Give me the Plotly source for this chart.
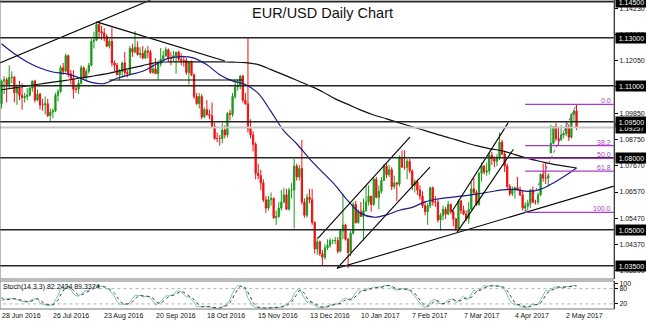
import pandas as pd
import plotly.graph_objects as go

# ---------------- data ----------------
start_date = "2016-06-28"

# warm-up days before the first visible bar (1 Jun - 27 Jun 2016), only used for the Stochastic
warm_open = [1.1130, 1.1185, 1.1150, 1.1365, 1.1355, 1.1357, 1.1395, 1.1315, 1.1255, 1.1290,
             1.1210, 1.1260, 1.1225, 1.1280, 1.1315, 1.1245, 1.1295, 1.1385, 1.1115]
warm_high = [1.1190, 1.1200, 1.1375, 1.1395, 1.1395, 1.1416, 1.1400, 1.1320, 1.1300, 1.1298,
             1.1295, 1.1270, 1.1290, 1.1380, 1.1330, 1.1305, 1.1425, 1.1395, 1.1125]
warm_low = [1.1120, 1.1140, 1.1135, 1.1330, 1.1340, 1.1345, 1.1305, 1.1245, 1.1230, 1.1190,
            1.1200, 1.1130, 1.1205, 1.1280, 1.1240, 1.1235, 1.1290, 1.0912, 1.0990]
warm_close = [1.1185, 1.1150, 1.1365, 1.1355, 1.1357, 1.1395, 1.1315, 1.1255, 1.1290, 1.1210,
              1.1260, 1.1225, 1.1280, 1.1315, 1.1245, 1.1295, 1.1385, 1.1115, 1.1025]

opens = [
    1.1025, 1.1120, 1.1125, 1.1105,
    1.1135, 1.1135, 1.1070, 1.1090, 1.1060, 1.1050, 1.1055, 1.1060, 1.1090, 1.1120,
    1.1040, 1.1065, 1.1020, 1.1020, 1.1025, 1.0975, 1.0990, 1.0995, 1.1060, 1.1075,
    1.1175, 1.1160, 1.1225, 1.1150, 1.1130, 1.1085, 1.1085, 1.1110, 1.1175, 1.1135,
    1.1160, 1.1185, 1.1285, 1.1290, 1.1355, 1.1325, 1.1320, 1.1305, 1.1265, 1.1285,
    1.1195, 1.1185, 1.1145, 1.1160, 1.1195, 1.1155, 1.1150, 1.1255, 1.1240, 1.1260,
    1.1230, 1.1235, 1.1215, 1.1245, 1.1240, 1.1155, 1.1170, 1.1150, 1.1190, 1.1210,
    1.1225, 1.1250, 1.1215, 1.1215, 1.1225, 1.1240, 1.1210, 1.1205, 1.1205, 1.1155,
    1.1200, 1.1145, 1.1055, 1.1025, 1.1055, 1.0970, 1.1000, 1.0980, 1.0975, 1.0930,
    1.0880, 1.0880, 1.0880, 1.0915, 1.0895, 1.0985, 1.0980, 1.1055, 1.1095, 1.1100,
    1.1140, 1.1040, 1.1025, 1.0920, 1.0895, 1.0855, 1.0735, 1.0725, 1.0695, 1.0625,
    1.0590, 1.0625, 1.0630, 1.0550, 1.0555, 1.0590, 1.0615, 1.0645, 1.0585, 1.0665,
    1.0665, 1.0765, 1.0720, 1.0755, 1.0615, 1.0560, 1.0635, 1.0625, 1.0530, 1.0420,
    1.0450, 1.0400, 1.0385, 1.0425, 1.0435, 1.0455, 1.0455, 1.0455, 1.0410, 1.0495,
    1.0520, 1.0460, 1.0405, 1.0485, 1.0605, 1.0530, 1.0575, 1.0555, 1.0580, 1.0615,
    1.0640, 1.0605, 1.0710, 1.0635, 1.0660, 1.0705, 1.0765, 1.0730, 1.0750, 1.0680,
    1.0695, 1.0690, 1.0800, 1.0760, 1.0760, 1.0785, 1.0745, 1.0685, 1.0700, 1.0665,
    1.0640, 1.0600, 1.0575, 1.0600, 1.0675, 1.0615, 1.0615, 1.0540, 1.0560, 1.0585,
    1.0565, 1.0605, 1.0575, 1.0545, 1.0505, 1.0620, 1.0580, 1.0565, 1.0545, 1.0585,
    1.0670, 1.0655, 1.0605, 1.0735, 1.0765, 1.0740, 1.0745, 1.0810, 1.0795, 1.0785,
    1.0800, 1.0865, 1.0815, 1.0765, 1.0680, 1.0650, 1.0665, 1.0675, 1.0665, 1.0645,
    1.0590, 1.0600, 1.0610, 1.0665, 1.0615, 1.0615, 1.0645, 1.0730, 1.0715, 1.0715,
    1.0820, 1.0860, 1.0930, 1.0880, 1.0875, 1.0895, 1.0900, 1.0930, 1.0885, 1.0980,
    1.0995]
highs = [
    1.1125, 1.1140, 1.1135, 1.1185,
    1.1160, 1.1140, 1.1105, 1.1120, 1.1110, 1.1070, 1.1090, 1.1095, 1.1120, 1.1125,
    1.1085, 1.1070, 1.1045, 1.1055, 1.1045, 1.1005, 1.1005, 1.1070, 1.1085, 1.1185,
    1.1195, 1.1234, 1.1230, 1.1165, 1.1165, 1.1100, 1.1125, 1.1185, 1.1180, 1.1170,
    1.1195, 1.1295, 1.1325, 1.1366, 1.1360, 1.1350, 1.1340, 1.1315, 1.1295, 1.1342,
    1.1205, 1.1195, 1.1170, 1.1200, 1.1240, 1.1165, 1.1265, 1.1275, 1.1327, 1.1285,
    1.1260, 1.1265, 1.1255, 1.1265, 1.1250, 1.1190, 1.1215, 1.1205, 1.1257, 1.1245,
    1.1260, 1.1255, 1.1240, 1.1245, 1.1240, 1.1245, 1.1235, 1.1225, 1.1215, 1.1200,
    1.1205, 1.1150, 1.1070, 1.1070, 1.1065, 1.1010, 1.1040, 1.1000, 1.1030, 1.0945,
    1.0905, 1.0895, 1.0945, 1.0935, 1.0990, 1.1000, 1.1070, 1.1125, 1.1125, 1.1145,
    1.1145, 1.1070, 1.1300, 1.0960, 1.0910, 1.0865, 1.0775, 1.0750, 1.0710, 1.0640,
    1.0640, 1.0655, 1.0635, 1.0580, 1.0615, 1.0665, 1.0675, 1.0670, 1.0675, 1.0695,
    1.0795, 1.0775, 1.0770, 1.0874, 1.0630, 1.0650, 1.0670, 1.0670, 1.0535, 1.0470,
    1.0455, 1.0415, 1.0440, 1.0460, 1.0465, 1.0460, 1.0470, 1.0470, 1.0500, 1.0650,
    1.0525, 1.0465, 1.0495, 1.0615, 1.0620, 1.0585, 1.0615, 1.0630, 1.0685, 1.0685,
    1.0640, 1.0720, 1.0720, 1.0685, 1.0720, 1.0775, 1.0775, 1.0770, 1.0760, 1.0725,
    1.0700, 1.0810, 1.0830, 1.0830, 1.0795, 1.0795, 1.0750, 1.0710, 1.0710, 1.0685,
    1.0660, 1.0620, 1.0610, 1.0680, 1.0680, 1.0640, 1.0630, 1.0570, 1.0600, 1.0595,
    1.0620, 1.0610, 1.0580, 1.0550, 1.0625, 1.0625, 1.0600, 1.0580, 1.0615, 1.0700,
    1.0715, 1.0665, 1.0740, 1.0780, 1.0770, 1.0780, 1.0820, 1.0825, 1.0805, 1.0815,
    1.0905, 1.0875, 1.0825, 1.0775, 1.0690, 1.0680, 1.0680, 1.0720, 1.0680, 1.0665,
    1.0615, 1.0625, 1.0670, 1.0680, 1.0625, 1.0655, 1.0735, 1.0775, 1.0780, 1.0735,
    1.0937, 1.0930, 1.0945, 1.0925, 1.0935, 1.0910, 1.0950, 1.0940, 1.0985, 1.1000,
    1.1022]
lows = [
    1.1005, 1.1065, 1.1030, 1.1090,
    1.1110, 1.1030, 1.1020, 1.1040, 1.1000, 1.1030, 1.1040, 1.1055, 1.1075, 1.1030,
    1.1035, 1.1000, 1.0995, 1.0980, 1.0970, 1.0953, 1.0965, 1.0990, 1.1035, 1.1070,
    1.1145, 1.1155, 1.1135, 1.1105, 1.1046, 1.1070, 1.1065, 1.1105, 1.1125, 1.1120,
    1.1150, 1.1180, 1.1255, 1.1285, 1.1295, 1.1290, 1.1285, 1.1260, 1.1255, 1.1180,
    1.1160, 1.1144, 1.1123, 1.1133, 1.1141, 1.1135, 1.1145, 1.1220, 1.1235, 1.1225,
    1.1215, 1.1210, 1.1210, 1.1215, 1.1150, 1.1150, 1.1150, 1.1125, 1.1180, 1.1205,
    1.1220, 1.1200, 1.1185, 1.1200, 1.1150, 1.1200, 1.1185, 1.1180, 1.1145, 1.1105,
    1.1140, 1.1045, 1.1020, 1.1005, 1.0960, 1.0965, 1.0975, 1.0960, 1.0925, 1.0875,
    1.0865, 1.0850, 1.0860, 1.0880, 1.0885, 1.0955, 1.0970, 1.1045, 1.1080, 1.1085,
    1.1030, 1.1020, 1.0905, 1.0880, 1.0825, 1.0710, 1.0710, 1.0665, 1.0615, 1.0570,
    1.0580, 1.0600, 1.0545, 1.0520, 1.0550, 1.0580, 1.0610, 1.0585, 1.0580, 1.0630,
    1.0505, 1.0705, 1.0705, 1.0605, 1.0550, 1.0550, 1.0610, 1.0520, 1.0400, 1.0395,
    1.0390, 1.0352, 1.0375, 1.0415, 1.0425, 1.0440, 1.0440, 1.0400, 1.0405, 1.0460,
    1.0455, 1.0340, 1.0390, 1.0480, 1.0525, 1.0525, 1.0555, 1.0455, 1.0575, 1.0600,
    1.0575, 1.0600, 1.0630, 1.0585, 1.0650, 1.0705, 1.0715, 1.0720, 1.0665, 1.0670,
    1.0620, 1.0680, 1.0760, 1.0750, 1.0710, 1.0735, 1.0665, 1.0655, 1.0645, 1.0625,
    1.0590, 1.0560, 1.0520, 1.0590, 1.0600, 1.0595, 1.0530, 1.0495, 1.0540, 1.0545,
    1.0560, 1.0565, 1.0515, 1.0495, 1.0495, 1.0565, 1.0560, 1.0535, 1.0525, 1.0580,
    1.0650, 1.0600, 1.0600, 1.0700, 1.0730, 1.0725, 1.0730, 1.0770, 1.0760, 1.0765,
    1.0790, 1.0810, 1.0740, 1.0670, 1.0640, 1.0640, 1.0630, 1.0665, 1.0640, 1.0580,
    1.0572, 1.0580, 1.0590, 1.0610, 1.0605, 1.0605, 1.0640, 1.0700, 1.0690, 1.0680,
    1.0820, 1.0855, 1.0870, 1.0850, 1.0870, 1.0880, 1.0890, 1.0870, 1.0880, 1.0950,
    1.0915]
closes = [
    1.1120, 1.1125, 1.1105, 1.1135,
    1.1135, 1.1070, 1.1090, 1.1060, 1.1050, 1.1055, 1.1060, 1.1090, 1.1120, 1.1040,
    1.1065, 1.1020, 1.1020, 1.1025, 1.0975, 1.0990, 1.0995, 1.1060, 1.1075, 1.1175,
    1.1160, 1.1225, 1.1150, 1.1130, 1.1085, 1.1085, 1.1110, 1.1175, 1.1135, 1.1160,
    1.1185, 1.1285, 1.1290, 1.1355, 1.1325, 1.1320, 1.1305, 1.1265, 1.1285, 1.1195,
    1.1185, 1.1145, 1.1160, 1.1195, 1.1155, 1.1150, 1.1255, 1.1240, 1.1260, 1.1230,
    1.1235, 1.1215, 1.1245, 1.1240, 1.1155, 1.1170, 1.1150, 1.1190, 1.1210, 1.1225,
    1.1250, 1.1215, 1.1215, 1.1225, 1.1240, 1.1210, 1.1205, 1.1205, 1.1155, 1.1200,
    1.1145, 1.1055, 1.1025, 1.1055, 1.0970, 1.1000, 1.0980, 1.0975, 1.0930, 1.0880,
    1.0880, 1.0880, 1.0915, 1.0895, 1.0985, 1.0980, 1.1055, 1.1095, 1.1100, 1.1140,
    1.1040, 1.1025, 1.0920, 1.0895, 1.0855, 1.0735, 1.0725, 1.0695, 1.0625, 1.0590,
    1.0625, 1.0630, 1.0550, 1.0555, 1.0590, 1.0615, 1.0645, 1.0585, 1.0665, 1.0665,
    1.0765, 1.0720, 1.0755, 1.0615, 1.0560, 1.0635, 1.0625, 1.0530, 1.0420, 1.0450,
    1.0400, 1.0385, 1.0425, 1.0435, 1.0455, 1.0455, 1.0455, 1.0410, 1.0495, 1.0520,
    1.0460, 1.0405, 1.0485, 1.0605, 1.0530, 1.0575, 1.0555, 1.0580, 1.0615, 1.0640,
    1.0605, 1.0710, 1.0635, 1.0660, 1.0705, 1.0765, 1.0730, 1.0750, 1.0680, 1.0695,
    1.0690, 1.0800, 1.0760, 1.0760, 1.0785, 1.0745, 1.0685, 1.0700, 1.0665, 1.0640,
    1.0600, 1.0575, 1.0600, 1.0675, 1.0615, 1.0615, 1.0540, 1.0560, 1.0585, 1.0565,
    1.0605, 1.0575, 1.0545, 1.0505, 1.0620, 1.0580, 1.0565, 1.0545, 1.0585, 1.0670,
    1.0655, 1.0605, 1.0735, 1.0765, 1.0740, 1.0745, 1.0810, 1.0795, 1.0785, 1.0800,
    1.0865, 1.0815, 1.0765, 1.0680, 1.0650, 1.0665, 1.0675, 1.0665, 1.0645, 1.0590,
    1.0600, 1.0610, 1.0665, 1.0615, 1.0615, 1.0645, 1.0730, 1.0715, 1.0715, 1.0725,
    1.0860, 1.0930, 1.0880, 1.0875, 1.0895, 1.0900, 1.0930, 1.0885, 1.0980, 1.0995,
    1.0926]

# moving averages (bar index -> value)
ma_bars = [0, 5, 10, 15, 20, 25, 30, 35, 40, 45, 50, 55, 60, 65, 70, 75, 80, 85, 90, 95,
           100, 105, 110, 115, 120, 125, 130, 135, 140, 145, 150, 155, 160, 165, 170, 175,
           180, 185, 190, 195, 200, 205, 210, 215, 220, 224]
ma_fast = [1.1275, 1.1233, 1.1199, 1.1174, 1.1157, 1.1150, 1.1134, 1.1114, 1.1109, 1.1131,
           1.1146, 1.1160, 1.1188, 1.1214, 1.1221, 1.1215, 1.1187, 1.1146, 1.1120, 1.1105,
           1.1068, 1.0992, 1.0912, 1.0858, 1.0795, 1.0740, 1.0685, 1.0620, 1.0568, 1.0552,
           1.0562, 1.0581, 1.0593, 1.0616, 1.0628, 1.0635, 1.0641, 1.0648, 1.0657, 1.0666,
           1.0668, 1.0660, 1.0668, 1.0695, 1.0728, 1.0757]
ma_slow = [1.1083, 1.1091, 1.1099, 1.1107, 1.1115, 1.1122, 1.1131, 1.1139, 1.1148, 1.1160,
           1.1172, 1.1184, 1.1196, 1.1199, 1.1199, 1.1199, 1.1199, 1.1199, 1.1198, 1.1196,
           1.1188, 1.1167, 1.1145, 1.1123, 1.1100, 1.1075, 1.1045, 1.1022, 1.0998, 1.0978,
           1.0962, 1.0945, 1.0929, 1.0913, 1.0896, 1.0881, 1.0865, 1.0850, 1.0838, 1.0829,
           1.0813, 1.0797, 1.0784, 1.0772, 1.0764, 1.0757]

# horizontal support / resistance levels and current bid
levels = [1.14500, 1.13000, 1.11000, 1.09500, 1.08000, 1.05000, 1.03500]
bid = 1.09257
axis_ticks = [1.1423, 1.1313, 1.1205, 1.1095, 1.0985, 1.0875, 1.0767, 1.0657, 1.0547, 1.0437, 1.0329]

# hand-drawn trend lines: (bar, price) end points
trendlines = [
    [(-1.0, 1.1193), (58.0, 1.1457)],          # rising line, top-left
    [(37.0, 1.1366), (87.0, 1.1203)],          # falling line from Aug high
    [(42.0, 1.1124), (94.0, 1.1124)],          # horizontal support
    [(123.3, 1.0465), (159.1, 1.0886)],        # channel 1 upper
    [(130.7, 1.0339), (166.9, 1.0761)],        # channel 1 lower
    [(130.7, 1.0339), (240.0, 1.0686)],        # long rising support
    [(175.4, 1.0575), (197.4, 1.0946)],        # channel 2 upper
    [(177.5, 1.0490), (199.4, 1.0835)],        # channel 2 lower
]
fib_ratios = [0.0, 38.2, 50.0, 61.8, 100.0]
fib_low_bar, fib_high_bar = 204, 224

# ---------------- derived ----------------
n = len(closes)
dates = pd.bdate_range(start_date, periods=n)
xs = list(range(n))

full = pd.DataFrame({"h": warm_high + highs, "l": warm_low + lows, "c": warm_close + closes})
ll = full["l"].rolling(14).min()
hh = full["h"].rolling(14).max()
stoch_k = 100 * (full["c"] - ll).rolling(3).sum() / (hh - ll).rolling(3).sum()
stoch_d = stoch_k.rolling(3).mean()
stoch_k = stoch_k.iloc[len(warm_close):].tolist()
stoch_d = stoch_d.iloc[len(warm_close):].tolist()

fib_hi = highs[fib_high_bar]
fib_lo = lows[fib_low_bar]
fib_prices = [fib_hi - r / 100 * (fib_hi - fib_lo) for r in fib_ratios]

# ---------------- layout constants ----------------
W, H = 646, 326
MR, MB = 32, 17
PH = H - MB
X0, X1 = -0.6, 238.6
Y0, Y1 = 1.02946, 1.14571
dom_main = [1 - 279 / PH, 1]
dom_st = [0, 1 - 281 / PH]

GREEN = "#1c9a1c"
RED = "#ee1111"
FIB = "#a83cc8"
FONT = "Liberation Sans"

fig = go.Figure()

fig.add_trace(go.Candlestick(
    x=xs, open=opens, high=highs, low=lows, close=closes,
    increasing=dict(line=dict(color=GREEN, width=1), fillcolor=GREEN),
    decreasing=dict(line=dict(color=RED, width=1), fillcolor=RED),
    whiskerwidth=0, xaxis="x", yaxis="y", showlegend=False, hoverinfo="skip"))

fig.add_trace(go.Scatter(x=ma_bars, y=ma_slow, mode="lines", line=dict(color="#111111", width=1.2, shape="spline"),
                         xaxis="x", yaxis="y", showlegend=False, hoverinfo="skip"))
fig.add_trace(go.Scatter(x=ma_bars, y=ma_fast, mode="lines", line=dict(color="#1a1a8a", width=1.2, shape="spline"),
                         xaxis="x", yaxis="y", showlegend=False, hoverinfo="skip"))

for (a, b) in trendlines:
    fig.add_trace(go.Scatter(x=[a[0], b[0]], y=[a[1], b[1]], mode="lines",
                             line=dict(color="#000000", width=1.1), xaxis="x", yaxis="y",
                             showlegend=False, hoverinfo="skip"))

fig.add_trace(go.Scatter(x=[X0 - 1, X1 + 1], y=[bid, bid], mode="lines",
                         line=dict(color="#c8c8c8", width=2), xaxis="x", yaxis="y",
                         showlegend=False, hoverinfo="skip"))
for lv in levels:
    fig.add_trace(go.Scatter(x=[X0 - 1, X1 + 1], y=[lv, lv], mode="lines",
                             line=dict(color="#262626", width=1.6), xaxis="x", yaxis="y",
                             showlegend=False, hoverinfo="skip"))

# fibonacci
fig.add_trace(go.Scatter(x=[fib_low_bar, fib_high_bar], y=[fib_lo, fib_hi], mode="lines",
                         line=dict(color=FIB, width=1, dash="dot"), xaxis="x", yaxis="y",
                         showlegend=False, hoverinfo="skip"))
for fp in fib_prices:
    fig.add_trace(go.Scatter(x=[fib_low_bar, X1 + 1], y=[fp, fp], mode="lines",
                             line=dict(color=FIB, width=1.2), xaxis="x", yaxis="y",
                             showlegend=False, hoverinfo="skip"))

# stochastic
for lv in [80, 20]:
    fig.add_trace(go.Scatter(x=[X0 - 1, X1 + 1], y=[lv, lv], mode="lines",
                             line=dict(color="#b0b0b0", width=1, dash="dot"), xaxis="x", yaxis="y2",
                             showlegend=False, hoverinfo="skip"))
fig.add_trace(go.Scatter(x=xs, y=stoch_k, mode="lines", line=dict(color="#7cc4b8", width=1),
                         xaxis="x", yaxis="y2", showlegend=False, hoverinfo="skip"))
fig.add_trace(go.Scatter(x=xs, y=stoch_d, mode="lines", line=dict(color="#404040", width=1, dash="dot"),
                         xaxis="x", yaxis="y2", showlegend=False, hoverinfo="skip"))

ann = []
ann.append(dict(text="EUR/USD Daily Chart", xref="paper", yref="paper", x=322.5 / (W - MR), y=1,
                xanchor="center", yanchor="top", yshift=-3, showarrow=False,
                font=dict(family=FONT, size=14.5, color="#111111")))
# bid label first so that the level boxes are drawn over it
for lv in [bid] + levels:
    ann.append(dict(text=f"{lv:.5f}", xref="paper", yref="y", x=1, y=lv, xanchor="left", yanchor="middle",
                    xshift=1, showarrow=False, bgcolor="#000000", borderpad=1, width=29, height=8,
                    font=dict(family=FONT, size=7, color="#ffffff")))
for r, fp in zip(fib_ratios, fib_prices):
    ann.append(dict(text=f"{r:.1f}", xref="paper", yref="y", x=1, y=fp, xanchor="right", yanchor="bottom",
                    xshift=-1, yshift=-2, showarrow=False, font=dict(family=FONT, size=7, color=FIB)))
for i in range(0, n, 20):
    d = dates[i]
    ann.append(dict(text=f"{d.day} {d:%b %Y}", xref="x", yref="paper", x=i, y=0, xanchor="left",
                    yanchor="top", xshift=-2, yshift=-1, showarrow=False,
                    font=dict(family=FONT, size=7, color="#111111")))
ann.append(dict(text="Stoch(14,3,3) 82.2424 89.3374", xref="paper", yref="paper", x=0, y=dom_st[1],
                xanchor="left", yanchor="top", xshift=1, yshift=0, showarrow=False,
                font=dict(family=FONT, size=7, color="#111111")))

shapes = [
    dict(type="rect", xref="paper", yref="paper", x0=0, x1=1, y0=dom_main[0], y1=dom_main[1],
         line=dict(color="#777777", width=1)),
    dict(type="rect", xref="paper", yref="paper", x0=0, x1=1, y0=dom_st[0], y1=dom_st[1],
         line=dict(color="#777777", width=1)),
]

fig.update_layout(
    width=W, height=H, margin=dict(l=0, r=MR, t=0, b=MB),
    paper_bgcolor="white", plot_bgcolor="white", showlegend=False,
    xaxis=dict(domain=[0, 1], range=[X0, X1], anchor="y2", showgrid=False, zeroline=False,
               showticklabels=False, showline=False, rangeslider=dict(visible=False), fixedrange=True),
    yaxis=dict(domain=dom_main, range=[Y0, Y1], side="right", anchor="x", showgrid=False, zeroline=False,
               showline=True, linecolor="#000000", linewidth=1, ticks="outside", ticklen=3,
               tickcolor="#000000", tickvals=axis_ticks, ticktext=[f"{t:.5f}" for t in axis_ticks],
               tickfont=dict(family=FONT, size=7, color="#111111")),
    yaxis2=dict(domain=dom_st, range=[0, 110], side="right", anchor="x", showgrid=False, zeroline=False,
                showline=True, linecolor="#000000", linewidth=1, ticks="outside", ticklen=3,
                tickcolor="#000000", tickvals=[100, 80, 20], ticktext=["100", "80", "20"],
                tickfont=dict(family=FONT, size=7, color="#111111")),
    annotations=ann, shapes=shapes,
)

fig.write_html("out.html")
